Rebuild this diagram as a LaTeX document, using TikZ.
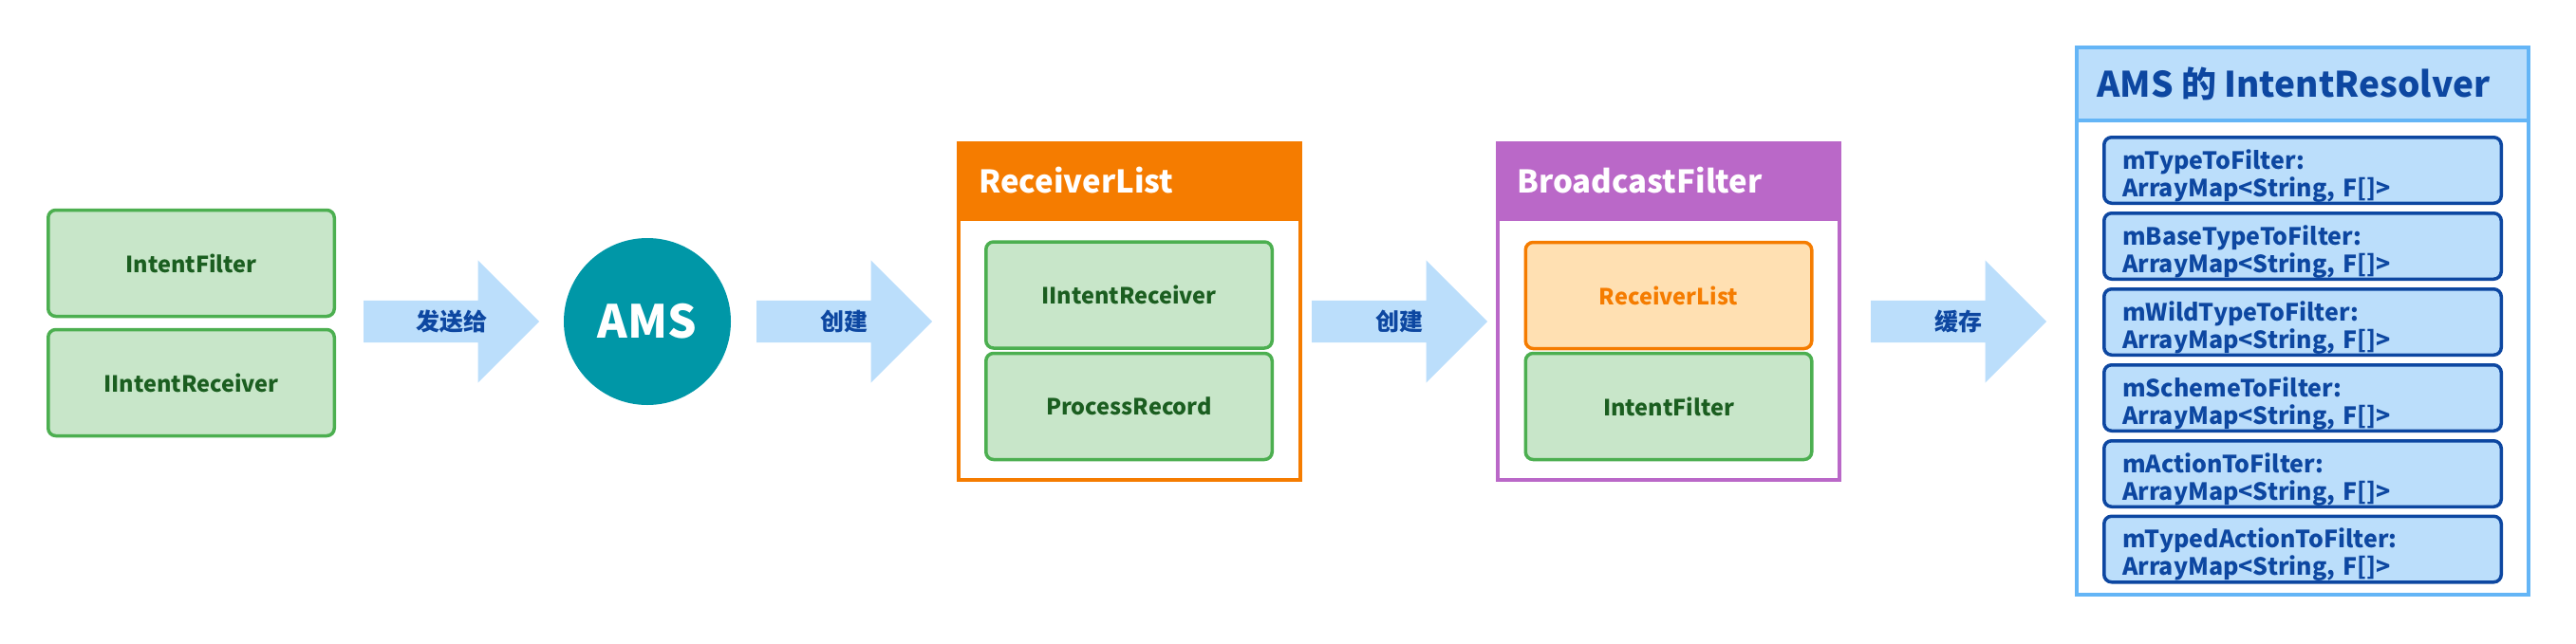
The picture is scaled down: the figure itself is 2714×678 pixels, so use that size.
\documentclass[tikz,border=0pt]{standalone}
\usepackage{fontspec}
\setmainfont{Noto Sans CJK SC}
\usetikzlibrary{shapes.arrows}

\definecolor{boxgreen}{HTML}{C8E6C9}
\definecolor{linegreen}{HTML}{4CAF50}
\definecolor{textgreen}{HTML}{1B5E20}
\definecolor{amsteal}{HTML}{0097A7}
\definecolor{paleblue}{HTML}{BBDEFB}
\definecolor{midblue}{HTML}{64B5F6}
\definecolor{darkblue}{HTML}{0D47A1}
\definecolor{rlorange}{HTML}{F57C00}
\definecolor{paleorange}{HTML}{FFE0B2}
\definecolor{bfpurple}{HTML}{BA68C8}

\tikzset{
  greenbox/.style={draw=linegreen, fill=boxgreen, line width=3.5pt, rounded corners=8pt,
    minimum width=301.5pt, minimum height=112pt, inner sep=0pt,
    text=textgreen, font=\fontsize{23.5}{23.5}\selectfont\bfseries},
  orangebox/.style={greenbox, draw=rlorange, fill=paleorange, text=rlorange},
  bigarrow/.style={single arrow, fill=paleblue, minimum height=185pt,
    single arrow head extend=42.5pt, single arrow tip angle=90,
    inner xsep=0pt, inner ysep=22pt, anchor=tail},
  arrowlabel/.style={inner sep=0pt, text=darkblue, font=\fontsize{25}{25}\selectfont\bfseries},
  itembox/.style={draw=darkblue, fill=paleblue, line width=3.5pt, rounded corners=8pt,
    minimum width=418.5pt, minimum height=69.5pt, inner sep=0pt, text width=380pt, align=left,
    text=darkblue, font=\fontsize{25}{29}\selectfont\bfseries,
    execute at begin node={\rule{0pt}{32pt}}},
  headtext/.style={anchor=west, inner sep=0pt, font=\fontsize{33}{33}\selectfont\bfseries},
}

\begin{document}
\begin{tikzpicture}[x=1pt, y=-1pt]
\useasboundingbox (0,0) rectangle (2714,678);

% sender side
\node[greenbox] (ifilter) at (201.5,277.5) {IntentFilter};
\node[greenbox] (ireceiver) at (201.5,403.5) {IIntentReceiver};

\node[bigarrow] (send) at (383,339) {};
\node[arrowlabel] (sendlabel) at (475.5,339) {发送给};

\node[circle, fill=amsteal, minimum size=176pt, inner sep=0pt, text=white,
  font=\fontsize{48}{48}\selectfont\bfseries] (ams) at (682,339) {AMS};

\node[bigarrow] (create1) at (797,339) {};
\node[arrowlabel] (create1label) at (889.5,339) {创建};

% ReceiverList
\node[draw=rlorange, line width=4pt, minimum width=360pt, minimum height=355pt] (rlist) at (1190,328.5) {};
\fill[rlorange] (1008,149) rectangle (1372,233);
\node[headtext, text=white] (rltitle) at (1031,190) {ReceiverList};
\node[greenbox] (rlreceiver) at (1189.5,311) {IIntentReceiver};
\node[greenbox] (rlprocess) at (1189.5,428.5) {ProcessRecord};

\node[bigarrow] (create2) at (1382,339) {};
\node[arrowlabel] (create2label) at (1474,339) {创建};

% BroadcastFilter
\node[draw=bfpurple, line width=4pt, minimum width=360pt, minimum height=355pt] (bfilter) at (1758,328.5) {};
\fill[bfpurple] (1576,149) rectangle (1940,233);
\node[headtext, text=white] (bftitle) at (1598,190) {BroadcastFilter};
\node[orangebox] (bflist) at (1758,311.5) {ReceiverList};
\node[greenbox] (bfintent) at (1758,428.5) {IntentFilter};

\node[bigarrow] (cache) at (1971,339) {};
\node[arrowlabel] (cachelabel) at (2063,339) {缓存};

% IntentResolver
\fill[paleblue] (2188,50) rectangle (2664,127);
\draw[midblue, line width=4pt] (2188,127) -- (2664,127);
\node[draw=midblue, line width=4pt, minimum width=476pt, minimum height=577pt] (resolver) at (2426,338.5) {};
\node[headtext, text=darkblue, font=\fontsize{37}{37}\selectfont\bfseries] (restitle) at (2209,88) {AMS 的 IntentResolver};

\node[itembox] (mtype) at (2426,179.5) {mTypeToFilter:\\ArrayMap<String, F[]>};
\node[itembox] (mbase) at (2426,259.5) {mBaseTypeToFilter:\\ArrayMap<String, F[]>};
\node[itembox] (mwild) at (2426,339.5) {mWildTypeToFilter:\\ArrayMap<String, F[]>};
\node[itembox] (mscheme) at (2426,419.5) {mSchemeToFilter:\\ArrayMap<String, F[]>};
\node[itembox] (maction) at (2426,499.5) {mActionToFilter:\\ArrayMap<String, F[]>};
\node[itembox] (mtyped) at (2426,579) {mTypedActionToFilter:\\ArrayMap<String, F[]>};

\end{tikzpicture}
\end{document}
